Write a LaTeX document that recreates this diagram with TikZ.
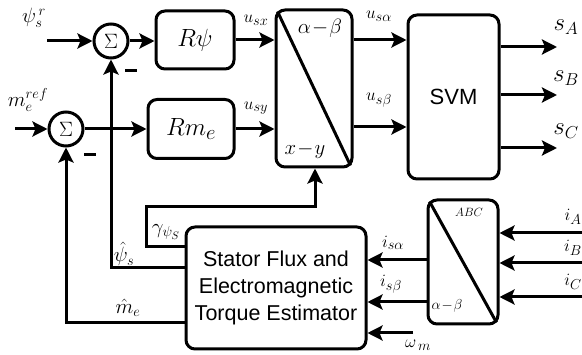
\documentclass[tikz,border=0pt]{standalone}
\usepackage{fontspec}
\setsansfont{Liberation Sans}
\usetikzlibrary{arrows.meta,calc}
\begin{document}
\begin{tikzpicture}[x=1pt,y=-1pt, line width=3pt,
 blk/.style={draw, rounded corners=9pt, inner sep=0pt},
 sumnode/.style={draw, circle, minimum size=34pt, inner sep=0pt, font=\fontsize{21}{21}\selectfont},
 arr/.style={-{Stealth[length=15pt,width=15pt,inset=3pt]}},
 lbl/.style={font=\fontsize{19}{19}\selectfont, inner sep=0pt},
 biglbl/.style={font=\fontsize{22}{22}\selectfont, inner sep=0pt},
 minus/.style={inner sep=0pt},
]
\useasboundingbox (0,0) rectangle (582,355);

% blocks
\node[sumnode] (s1) at (111,41) {$\Sigma$};
\node[sumnode] (s2) at (66,129) {$\Sigma$};
\node[blk, minimum width=78pt, minimum height=58pt, font=\fontsize{30}{30}\selectfont] (rpsi) at (195,40) {$R\psi$};
\node[blk, minimum width=86pt, minimum height=59pt, font=\fontsize{30}{30}\selectfont] (rme) at (191,129) {$Rm_e$};
\node[blk, minimum width=76pt, minimum height=157pt] (xy) at (314,88.5) {};
\node[blk, minimum width=91pt, minimum height=164pt, font=\sffamily\fontsize{22}{22}\selectfont] (svm) at (453.5,97) {SVM};
\node[blk, minimum width=180pt, minimum height=122pt, align=center, font=\sffamily\fontsize{21.5}{27}\selectfont] (est) at (276,288) {Stator Flux and\\Electromagnetic\\Torque Estimator};
\node[blk, minimum width=70pt, minimum height=124pt] (abc) at (463,262) {};

% diagonals
\draw ([shift={(3,3)}]xy.north west) -- ([shift={(-3,-3)}]xy.south east);
\draw ([shift={(3,3)}]abc.north west) -- ([shift={(-3,-3)}]abc.south east);
\node[biglbl] (xyab) at (320,28) {$\alpha\!-\!\beta$};
\node[biglbl] (xyxy) at (305,150) {$x\!-\!y$};
\node[inner sep=0pt, font=\fontsize{12}{12}\selectfont] (abcl) at (469,212) {$ABC$};
\node[inner sep=0pt, font=\fontsize{15}{15}\selectfont] (abcab) at (447,306) {$\alpha\!-\!\beta$};

% inputs
\coordinate (psin) at (47,41);
\coordinate (mein) at (15,129);
\draw[arr] (psin) -- (s1);
\draw[arr] (mein) -- (s2);
\draw[arr] (s1.east) -- (s1.east -| rpsi.west);
\draw[arr] (s2.east) -- (s2.east -| rme.west);
\draw[arr] (rpsi.east) -- (rpsi.east -| xy.west);
\draw[arr] (rme.east) -- (rme.east -| xy.west);

% xy to svm
\coordinate (ua) at (360,40);
\coordinate (ub) at (360,127);
\draw[arr] (xy.east |- ua) -- (svm.west |- ua);
\draw[arr] (xy.east |- ub) -- (svm.west |- ub);

% svm outputs
\coordinate (sa) at (557,47);
\coordinate (sb) at (557,95);
\coordinate (sc) at (557,148);
\draw[arr] (svm.east |- sa) -- (sa);
\draw[arr] (svm.east |- sb) -- (sb);
\draw[arr] (svm.east |- sc) -- (sc);

% abc inputs
\coordinate (ia) at (582,233);
\coordinate (ib) at (582,263);
\coordinate (ic) at (582,297);
\draw[arr] (ia) -- (ia -| abc.east);
\draw[arr] (ib) -- (ib -| abc.east);
\draw[arr] (ic) -- (ic -| abc.east);

% abc to estimator
\coordinate (isa) at (427,260);
\coordinate (isb) at (427,302);
\draw[arr] (abc.west |- isa) -- (est.east |- isa);
\draw[arr] (abc.west |- isb) -- (est.east |- isb);
\coordinate (wm) at (413,333);
\draw[arr] (wm) -- (est.east |- wm);

% feedback
\coordinate (fm) at (185,323);
\coordinate (fp) at (185,268);
\coordinate (fg1) at (146,247);
\coordinate (fg2) at (315,207);
\draw[arr] (est.west |- fm) -- (s2.south |- fm) -- (s2.south);
\draw[arr] (est.west |- fp) -- (s1.south |- fp) -- (s1.south);
\draw[arr] (est.west |- fg1) -- (fg1) |- (fg2) -- (fg2 |- xy.south);

% minus signs
\node[minus] (m1) at (131,71) {\rule{12pt}{3pt}};
\node[minus] (m2) at (90,155) {\rule{12pt}{3pt}};

% labels
\node[biglbl] (lpsi) at (34,18) {$\psi^{\,r}_{s}$};
\node[biglbl] (lme) at (28,100) {$m^{ref}_{e}$};
\node[lbl] (lusx) at (256,20) {$u_{sx}$};
\node[lbl] (lusy) at (256,108) {$u_{sy}$};
\node[lbl] (lua) at (379,16) {$u_{s\alpha}$};
\node[lbl] (lub) at (379,100) {$u_{s\beta}$};
\node[font=\fontsize{24}{24}\selectfont, inner sep=0pt] (lsa) at (566,27) {$s_A$};
\node[font=\fontsize{24}{24}\selectfont, inner sep=0pt] (lsb) at (566,78) {$s_B$};
\node[font=\fontsize{24}{24}\selectfont, inner sep=0pt] (lsc) at (566,131) {$s_C$};
\node[biglbl] (lph) at (124,254) {$\hat{\psi}_s$};
\node[biglbl] (lmh) at (128,308) {$\hat{m}_e$};
\node[biglbl] (lg) at (166,232) {$\gamma_{\psi_S}$};
\node[lbl] (lisa) at (393,243) {$i_{s\alpha}$};
\node[lbl] (lisb) at (391,284) {$i_{s\beta}$};
\node[lbl] (lw) at (418,345) {$\omega_{\,m}$};
\node[lbl] (lia) at (573,217) {$i_A$};
\node[lbl] (lib) at (573,248) {$i_B$};
\node[lbl] (lic) at (573,282) {$i_C$};
\end{tikzpicture}
\end{document}
